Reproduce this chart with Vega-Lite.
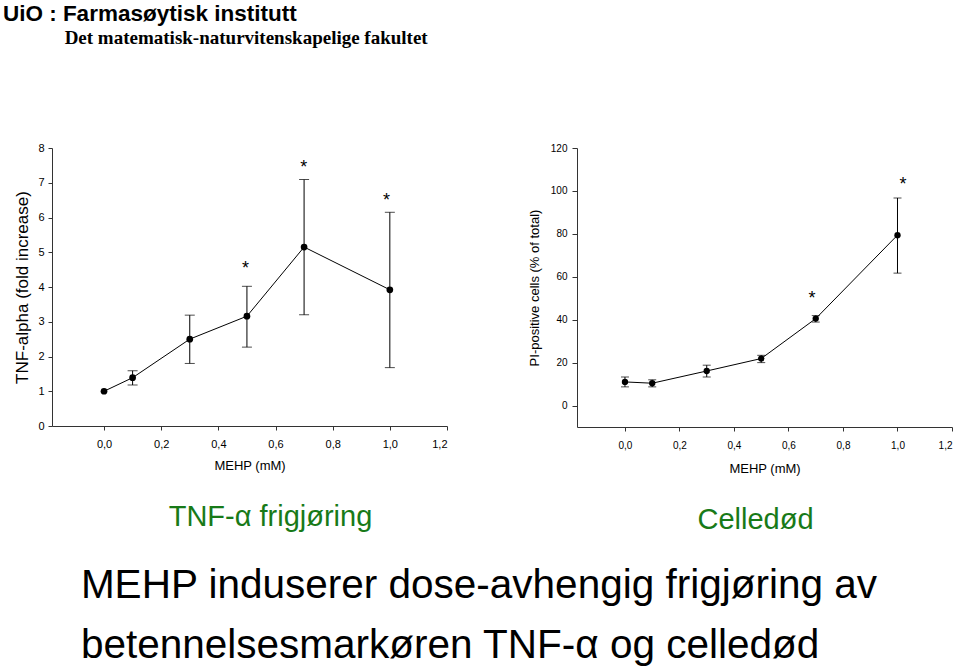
{
  "$schema": "https://vega.github.io/schema/vega-lite/v6.json",
  "background": "white",
  "padding": {"left": 2, "top": 2, "right": 0, "bottom": 0},
  "title": {
    "text": "UiO : Farmasøytisk institutt",
    "subtitle": "\u200b\u00a0\u00a0\u00a0\u00a0\u00a0\u00a0\u00a0\u00a0\u00a0\u00a0\u00a0\u00a0\u00a0Det matematisk-naturvitenskapelige fakultet",
    "anchor": "start",
    "frame": "bounds",
    "dx": -11,
    "font": "Liberation Sans",
    "fontSize": 22.5,
    "fontWeight": "bold",
    "color": "black",
    "subtitleFont": "Liberation Serif",
    "subtitleFontSize": 19,
    "subtitleFontWeight": "bold",
    "subtitleColor": "black",
    "subtitlePadding": 4,
    "offset": 94
  },
  "datasets": {
    "tnf": [
      {"dose": 0.0, "value": 1.0, "lo": null, "hi": null},
      {"dose": 0.1, "value": 1.39, "lo": 1.18, "hi": 1.59},
      {"dose": 0.3, "value": 2.5, "lo": 1.8, "hi": 3.19},
      {"dose": 0.5, "value": 3.16, "lo": 2.27, "hi": 4.02},
      {"dose": 0.7, "value": 5.15, "lo": 3.2, "hi": 7.09},
      {"dose": 1.0, "value": 3.92, "lo": 1.68, "hi": 6.15}
    ],
    "tnf_stars": [
      {"dose": 0.495, "value": 4.66},
      {"dose": 0.699, "value": 7.57},
      {"dose": 0.988, "value": 6.63}
    ],
    "pi": [
      {"dose": 0.0, "value": 11.0, "lo": 8.7, "hi": 13.3},
      {"dose": 0.1, "value": 10.4, "lo": 8.7, "hi": 12.0},
      {"dose": 0.3, "value": 16.1, "lo": 13.3, "hi": 18.8},
      {"dose": 0.5, "value": 21.9, "lo": 20.0, "hi": 23.4},
      {"dose": 0.7, "value": 40.5, "lo": 38.9, "hi": 41.9},
      {"dose": 1.0, "value": 79.4, "lo": 61.7, "hi": 96.7}
    ],
    "pi_stars": [
      {"dose": 0.686, "value": 51.8},
      {"dose": 1.02, "value": 105.3}
    ]
  },
  "vconcat": [
    {
      "title": {
        "text": ["MEHP induserer dose-avhengig frigjøring av", "betennelsesmarkøren TNF-α og celledød"],
        "orient": "bottom",
        "anchor": "start",
        "frame": "bounds",
        "font": "Liberation Sans",
        "fontSize": 40.5,
        "lineHeight": 60,
        "fontWeight": "normal",
        "color": "black",
        "offset": 31,
        "dx": 67
      },
      "spacing": 80,
      "hconcat": [
        {
          "width": 395,
          "height": 278,
          "title": {
            "text": "TNF-α frigjøring",
            "orient": "bottom",
            "anchor": "middle",
            "font": "Liberation Sans",
            "fontSize": 29,
            "fontWeight": "normal",
            "color": "#187a18",
            "offset": 31,
            "dx": 21
          },
          "encoding": {
            "x": {
              "field": "dose",
              "type": "quantitative",
              "scale": {"domain": [-0.182, 1.2], "nice": false, "zero": false},
              "axis": {
                "title": "MEHP (mM)",
                "values": [0, 0.2, 0.4, 0.6, 0.8, 1.0, 1.2],
                "labelExpr": "replace(format(datum.value, '.1f'), '.', ',')",
                "labelFontSize": 11,
                "labelPadding": 8,
                "tickSize": 4,
                "titleFontSize": 13,
                "titlePadding": 10
              }
            }
          },
          "layer": [
            {
              "data": {"name": "tnf"},
              "mark": {"type": "line", "color": "black", "strokeWidth": 1},
              "encoding": {
                "y": {
                  "field": "value",
                  "type": "quantitative",
                  "title": "TNF-alpha (fold increase)",
                  "scale": {"domain": [0, 8], "nice": false, "zero": false},
                  "axis": {"values": [0, 1, 2, 3, 4, 5, 6, 7, 8], "labelFontSize": 11, "labelPadding": 4, "tickSize": 4, "titleFontSize": 17, "titlePadding": 6}
                }
              }
            },
            {
              "data": {"name": "tnf"},
              "transform": [{"filter": "datum.lo != null"}],
              "mark": {"type": "errorbar", "color": "black", "thickness": 1, "ticks": {"size": 10, "color": "black"}},
              "encoding": {
                "y": {
                  "field": "lo",
                  "type": "quantitative",
                  "title": "TNF-alpha (fold increase)",
                  "scale": {"domain": [0, 8], "nice": false, "zero": false},
                  "axis": {"values": [0, 1, 2, 3, 4, 5, 6, 7, 8], "labelFontSize": 11, "labelPadding": 4, "tickSize": 4, "titleFontSize": 17, "titlePadding": 6}
                },
                "y2": {"field": "hi"}
              }
            },
            {
              "data": {"name": "tnf"},
              "mark": {"type": "point", "filled": true, "color": "black", "opacity": 1, "size": 45},
              "encoding": {
                "y": {
                  "field": "value",
                  "type": "quantitative",
                  "title": "TNF-alpha (fold increase)",
                  "scale": {"domain": [0, 8], "nice": false, "zero": false},
                  "axis": {"values": [0, 1, 2, 3, 4, 5, 6, 7, 8], "labelFontSize": 11, "labelPadding": 4, "tickSize": 4, "titleFontSize": 17, "titlePadding": 6}
                }
              }
            },
            {
              "data": {"name": "tnf_stars"},
              "mark": {"type": "text", "text": "*", "fontSize": 18, "font": "Liberation Sans", "color": "black", "baseline": "middle", "dy": 5},
              "encoding": {
                "y": {
                  "field": "value",
                  "type": "quantitative",
                  "title": "TNF-alpha (fold increase)",
                  "scale": {"domain": [0, 8], "nice": false, "zero": false},
                  "axis": {"values": [0, 1, 2, 3, 4, 5, 6, 7, 8], "labelFontSize": 11, "labelPadding": 4, "tickSize": 4, "titleFontSize": 17, "titlePadding": 6}
                }
              }
            }
          ]
        },
        {
          "width": 375,
          "height": 279,
          "title": {
            "text": "Celledød",
            "orient": "bottom",
            "anchor": "middle",
            "font": "Liberation Sans",
            "fontSize": 29,
            "fontWeight": "normal",
            "color": "#187a18",
            "offset": 31,
            "dx": -9
          },
          "encoding": {
            "x": {
              "field": "dose",
              "type": "quantitative",
              "scale": {"domain": [-0.176, 1.2], "nice": false, "zero": false},
              "axis": {
                "title": "MEHP (mM)",
                "values": [0, 0.2, 0.4, 0.6, 0.8, 1.0, 1.2],
                "labelExpr": "replace(format(datum.value, '.1f'), '.', ',')",
                "labelFontSize": 10,
                "labelPadding": 9,
                "tickSize": 4,
                "titleFontSize": 13,
                "titlePadding": 12
              }
            }
          },
          "layer": [
            {
              "data": {"name": "pi"},
              "mark": {"type": "line", "color": "black", "strokeWidth": 1},
              "encoding": {
                "y": {
                  "field": "value",
                  "type": "quantitative",
                  "title": "PI-positive cells (% of total)",
                  "scale": {"domain": [-10, 120], "nice": false, "zero": false},
                  "axis": {"values": [0, 20, 40, 60, 80, 100, 120], "labelFontSize": 10, "labelPadding": 5, "tickSize": 5, "titleFontSize": 13, "titlePadding": 9}
                }
              }
            },
            {
              "data": {"name": "pi"},
              "mark": {"type": "errorbar", "color": "black", "thickness": 1, "ticks": {"size": 8, "color": "black"}},
              "encoding": {
                "y": {
                  "field": "lo",
                  "type": "quantitative",
                  "title": "PI-positive cells (% of total)",
                  "scale": {"domain": [-10, 120], "nice": false, "zero": false},
                  "axis": {"values": [0, 20, 40, 60, 80, 100, 120], "labelFontSize": 10, "labelPadding": 5, "tickSize": 5, "titleFontSize": 13, "titlePadding": 9}
                },
                "y2": {"field": "hi"}
              }
            },
            {
              "data": {"name": "pi"},
              "mark": {"type": "point", "filled": true, "color": "black", "opacity": 1, "size": 40},
              "encoding": {
                "y": {
                  "field": "value",
                  "type": "quantitative",
                  "title": "PI-positive cells (% of total)",
                  "scale": {"domain": [-10, 120], "nice": false, "zero": false},
                  "axis": {"values": [0, 20, 40, 60, 80, 100, 120], "labelFontSize": 10, "labelPadding": 5, "tickSize": 5, "titleFontSize": 13, "titlePadding": 9}
                }
              }
            },
            {
              "data": {"name": "pi_stars"},
              "mark": {"type": "text", "text": "*", "fontSize": 18, "font": "Liberation Sans", "color": "black", "baseline": "middle", "dy": 5},
              "encoding": {
                "y": {
                  "field": "value",
                  "type": "quantitative",
                  "title": "PI-positive cells (% of total)",
                  "scale": {"domain": [-10, 120], "nice": false, "zero": false},
                  "axis": {"values": [0, 20, 40, 60, 80, 100, 120], "labelFontSize": 10, "labelPadding": 5, "tickSize": 5, "titleFontSize": 13, "titlePadding": 9}
                }
              }
            }
          ]
        }
      ]
    }
  ],
  "config": {
    "view": {"stroke": null},
    "font": "Liberation Sans",
    "axis": {
      "grid": false,
      "domainColor": "#333333",
      "tickColor": "#333333",
      "labelColor": "black",
      "titleColor": "black",
      "labelFont": "Liberation Sans",
      "titleFont": "Liberation Sans",
      "titleFontWeight": "normal"
    }
  }
}
